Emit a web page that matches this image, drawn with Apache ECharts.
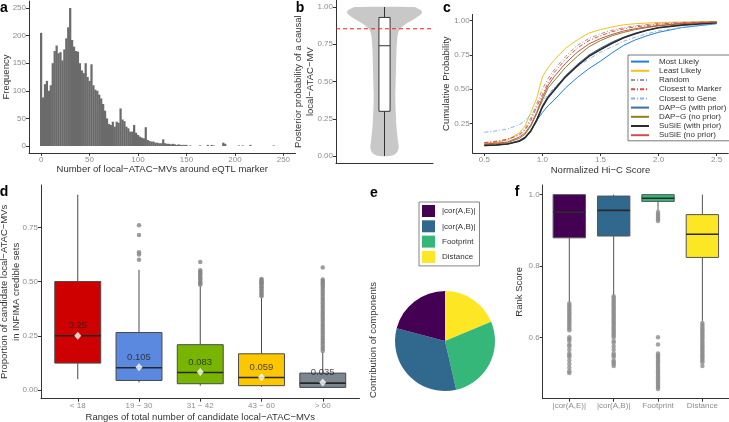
<!DOCTYPE html>
<html><head><meta charset="utf-8">
<script src="https://cdn.jsdelivr.net/npm/echarts@6/dist/echarts.min.js"></script>
<style>html,body{margin:0;padding:0;background:#fff}#c{width:729px;height:422px}</style>
</head><body><div id="c"></div>
<script>
// ================= DATA =================
// (a) histogram: bin centres (width 2) and counts
const histCenters = [0,2,4,6,8,10,12,14,16,18,20,22,24,26,28,30,32,34,36,38,40,42,44,46,48,50,52,54,56,58,60,62,64,66,68,70,72,74,76,78,80,82,84,86,88,90,92,94,96,98,100,102,104,106,108,110,112,114,116,118,120,122,124,126,128,130,132,134,136,138,140,142,144,146,148,150,154,164,172,176,178,188,190,204,208,216,240];
const histCounts  = [205,88,112,118,100,110,150,172,182,168,170,155,175,195,215,250,192,180,172,171,150,137,132,150,125,118,148,110,102,100,93,86,76,64,50,40,38,44,35,44,42,68,48,45,35,32,26,26,38,24,20,17,15,14,34,11,9,8,8,6,6,5,5,12,5,4,4,3,4,3,2,3,2,2,2,2,1,1,2,2,1,6,4,1,1,2,1];
const aTicksX = [0,50,100,150,200,250];
const aTicksY = [0,50,100,150,200,250];

// (b) violin: posterior probability levels and relative density (half width)
const violinLevels  = [1.0,0.99,0.98,0.97,0.96,0.95,0.93,0.91,0.89,0.87,0.85,0.82,0.78,0.7,0.6,0.5,0.4,0.3,0.2,0.15,0.1,0.06,0.03,0.01,0.0];
const violinDensity = [0.80,0.89,0.97,1.0,1.0,0.97,0.86,0.73,0.59,0.49,0.41,0.36,0.34,0.32,0.31,0.30,0.29,0.30,0.32,0.34,0.36,0.38,0.35,0.27,0.14];
const bBox = [0.0, 0.30, 0.74, 0.93, 1.0];
const bThreshold = 0.854;
const bTicks = [0,0.25,0.5,0.75,1.0];

// (c) cumulative distributions
const cNames = ['Most Likely','Least Likely','Random','Closest to Marker','Closest to Gene','DAP\u2212G (with prior)','DAP\u2212G (no prior)','SuSiE (with prior)','SuSiE (no prior)'];
const ecdfX = [0.5,0.6,0.7,0.8,0.85,0.9,0.95,1.0,1.05,1.1,1.2,1.3,1.4,1.5,1.6,1.7,1.8,1.9,2.0,2.2,2.5];
const mostLikely     = [0.087,0.09,0.10,0.12,0.14,0.19,0.27,0.33,0.38,0.42,0.51,0.585,0.65,0.705,0.765,0.82,0.86,0.89,0.915,0.95,0.978];
const leastLikely    = [0.107,0.11,0.13,0.18,0.23,0.33,0.43,0.59,0.66,0.71,0.80,0.86,0.91,0.935,0.955,0.97,0.978,0.983,0.987,0.99,0.995];
const randomSel      = [0.107,0.115,0.13,0.17,0.21,0.29,0.39,0.50,0.58,0.64,0.74,0.82,0.87,0.905,0.93,0.95,0.963,0.972,0.98,0.988,0.993];
const closestMarker  = [0.11,0.12,0.135,0.165,0.20,0.27,0.37,0.46,0.55,0.62,0.72,0.80,0.855,0.89,0.92,0.94,0.955,0.965,0.975,0.985,0.992];
const closestGene    = [0.185,0.195,0.21,0.24,0.27,0.31,0.36,0.41,0.46,0.51,0.59,0.665,0.72,0.77,0.81,0.85,0.88,0.905,0.925,0.95,0.98];
const dapgPrior      = [0.09,0.093,0.10,0.125,0.15,0.20,0.28,0.38,0.45,0.50,0.60,0.68,0.75,0.80,0.845,0.88,0.91,0.93,0.95,0.97,0.985];
const dapgNoPrior    = [0.095,0.10,0.11,0.14,0.17,0.23,0.32,0.42,0.51,0.56,0.66,0.74,0.81,0.855,0.89,0.915,0.935,0.95,0.962,0.978,0.99];
const susiePrior     = [0.09,0.092,0.10,0.12,0.145,0.195,0.27,0.37,0.44,0.49,0.59,0.67,0.74,0.79,0.835,0.875,0.905,0.93,0.948,0.968,0.985];
const susieNoPrior   = [0.10,0.105,0.115,0.15,0.18,0.24,0.33,0.44,0.53,0.59,0.69,0.77,0.83,0.87,0.90,0.925,0.942,0.955,0.966,0.98,0.99];
const cTicksX = [0.5,1.0,1.5,2.0,2.5];
const cTicksY = [0.25,0.5,0.75,1.0];

// (d) proportion boxplots: [lower whisker, Q1, median, Q3, upper whisker]
const dCats = ['< 18','19 \u2212 30','31 \u2212 42','43 \u2212 60','> 60'];
const dStats = [[0.05,0.124,0.25,0.50,0.90],[0.035,0.044,0.103,0.265,0.554],[0.02,0.029,0.081,0.209,0.477],[0.015,0.02,0.058,0.167,0.425],[0.01,0.012,0.032,0.078,0.173]];
const dMeans = [0.25,0.105,0.083,0.059,0.035];
const dLabels = ['0.25','0.105','0.083','0.059','0.035'];
const dOutliers = [
  [],
  [0.76,0.715,0.635,0.625,0.60],
  [0.59,0.552,0.545,0.538,0.53,0.522,0.515,0.508,0.50,0.495,0.49,0.485],
  [0.512,0.507,0.502,0.497,0.492,0.486,0.48,0.474,0.467,0.46,0.452,0.445,0.438,0.432],
  [0.565,0.51,0.503,0.496,0.488,0.48,0.47,0.46,0.45,0.44,0.43,0.42,0.41,0.40,0.39,0.38,0.37,0.36,0.35,0.34,0.33,0.32,0.31,0.30,0.29,0.28,0.27,0.26,0.25,0.24,0.23,0.22,0.21,0.20,0.19,0.18]
];
const dTicksY = [0,0.25,0.5,0.75];

// (e) pie contributions (percent)
const eNames  = ['|cor(A,E)|','|cor(A,B)|','Footprint','Distance'];
const eValues = [20.9,32.7,27.7,18.7];

// (f) rank score boxplots
const fCats = ['|cor(A,E)|','|cor(A,B)|','Footprint','Distance'];
const fStats = [[0.697,0.879,0.951,1.0,1.0],[0.717,0.884,0.956,0.996,1.0],[0.956,0.981,0.99,1.0,1.0],[0.646,0.824,0.889,0.944,1.0]];
const fOutliers = [
  [0.695,0.69,0.685,0.68,0.675,0.67,0.665,0.66,0.655,0.65,0.645,0.64,0.635,0.63,0.625,0.62,0.60,0.595,0.59,0.58,0.575,0.565,0.555,0.55,0.545,0.535,0.525,0.515,0.505,0.50],
  [0.715,0.71,0.705,0.70,0.695,0.69,0.685,0.68,0.675,0.67,0.665,0.66,0.655,0.65,0.645,0.64,0.635,0.63,0.625,0.62,0.615,0.61,0.605,0.60,0.59,0.585,0.575,0.565,0.555,0.55,0.545,0.535,0.53,0.525,0.52],
  [0.951,0.946,0.941,0.936,0.931,0.926,0.60,0.58,0.555,0.55,0.545,0.54,0.535,0.53,0.525,0.52,0.515,0.51,0.505,0.50,0.495,0.49,0.485,0.48,0.475,0.47,0.465,0.46,0.455],
  [0.64,0.635,0.63,0.625,0.62,0.615,0.61,0.605,0.60,0.595,0.59,0.585,0.58,0.575,0.57,0.565,0.56,0.555,0.55,0.545,0.54,0.535,0.53,0.52]
];
const fTicksY = [0.6,0.8,1.0];

// ================= STYLE =================
const FONT = '"Liberation Sans", Arial, Helvetica, sans-serif';
const TICKCOL = '#8c8c8c', AXCOL = '#333', TITLECOL = '#333';
const cColors = ['#1f7fd9','#f2c21b','#9a9a9a','#e8453c','#86b4e6','#3f6f9e','#8f7f24','#2b2b2b','#c4534c'];
const cTypes  = ['solid','solid',[4,2,1,2],[4,2,1,2],[4,2,1,2],'solid','solid','solid','solid'];
const cWidths = [1,1,1,1,1,1,1,1.6,1];
const dColors = ['#cf0000','#5b89df','#78b500','#fdc700','#7b8690'];
const fColors = ['#440154','#31688e','#35b779','#fde725'];

function axisBase(gridIndex, min, max, ticks, fmt, name, nameGap, showLabels) {
  return {
    type:'value', gridIndex, min, max,
    splitLine:{show:false},
    axisLine:{show:true, onZero:false, lineStyle:{color:AXCOL, width:1}},
    axisTick:{show:ticks.length>0, length:3, lineStyle:{color:AXCOL}, customValues:ticks},
    axisLabel:{show:showLabels!==false, color:TICKCOL, fontSize:8, margin:3, fontFamily:FONT, customValues:ticks, formatter:fmt},
    name, nameLocation:'middle', nameGap, nameMoveOverlap:false,
    nameTextStyle:{color:TITLECOL, fontSize:9.5, fontFamily:FONT, lineHeight:12}
  };
}

// box renderer on value axes
function boxSeries(xi, yi, stats, colors, halfW, border, medianCol, medianW) {
  return {
    type:'custom', xAxisIndex:xi, yAxisIndex:yi, silent:true, z:2,
    data: stats.map((s,i)=>[i+1].concat(s)),
    renderItem(params, api){
      const x=api.value(0), lo=api.value(1), q1=api.value(2), md=api.value(3), q3=api.value(4), hi=api.value(5);
      const c = colors[params.dataIndex % colors.length];
      const tl=api.coord([x-halfW,q3]), br=api.coord([x+halfW,q1]);
      const top=api.coord([x,hi]), bot=api.coord([x,lo]);
      const ml=api.coord([x-halfW,md]), mr=api.coord([x+halfW,md]);
      return {type:'group', children:[
        {type:'line', shape:{x1:top[0],y1:top[1],x2:top[0],y2:tl[1]}, style:{stroke:border,lineWidth:1}},
        {type:'line', shape:{x1:bot[0],y1:bot[1],x2:bot[0],y2:br[1]}, style:{stroke:border,lineWidth:1}},
        {type:'rect', shape:{x:tl[0],y:tl[1],width:br[0]-tl[0],height:br[1]-tl[1]}, style:{fill:c,stroke:border,lineWidth:1}},
        {type:'line', shape:{x1:ml[0],y1:ml[1],x2:mr[0],y2:mr[1]}, style:{stroke:medianCol,lineWidth:medianW}}
      ]};
    }
  };
}

function outlierSeries(xi, yi, lists, color) {
  const pts = [];
  lists.forEach((l,i)=>l.forEach(v=>pts.push([i+1, v])));
  return {type:'scatter', xAxisIndex:xi, yAxisIndex:yi, data:pts, symbol:'circle', symbolSize:4.5,
    itemStyle:{color:color}, silent:true, z:3};
}

const chart = echarts.init(document.getElementById('c'), null, {renderer:'canvas'});

const gridCommon = {containLabel:false, outerBoundsMode:'none'};
const grids = [
  Object.assign({left:29, top:1.1, width:266.5, height:151.8}, gridCommon),
  Object.assign({left:336, top:0, width:97, height:163.3}, gridCommon),
  Object.assign({left:472.7, top:14.4, width:255.6, height:138.6}, gridCommon),
  Object.assign({left:41, top:185, width:318.5, height:213.7}, gridCommon),
  Object.assign({left:542.7, top:185, width:186.3, height:213.7}, gridCommon)
];

const xAxes = [
  axisBase(0, -12.5, 262.5, aTicksX, v=>String(v), 'Number of local\u2212ATAC\u2212MVs around eQTL marker', 10),
  axisBase(1, -1, 1, [], null, '', 0, false),
  axisBase(2, 0.4, 2.6, cTicksX, v=>v.toFixed(1), 'Normalized Hi\u2212C Score', 11.5),
  axisBase(3, 0.4, 5.6, [1,2,3,4,5], v=>dCats[Math.round(v)-1], 'Ranges of total number of candidate local\u2212ATAC\u2212MVs', 12.5),
  axisBase(4, 0.4, 4.6, [1,2,3,4], v=>fCats[Math.round(v)-1], '', 0)
];
const yAxes = [
  axisBase(0, -12.5, 262.5, aTicksY, v=>String(v), 'Frequency', 16.5),
  axisBase(1, -0.049, 1.047, bTicks, v=>v.toFixed(2), 'Posterior probability of a causal\nlocal\u2212ATAC\u2212MV', 20),
  axisBase(2, 0.034, 1.046, cTicksY, v=>v.toFixed(2), 'Cumulative Probability', 20),
  axisBase(3, -0.04, 0.945, dTicksY, v=>v.toFixed(2), 'Proportion of candidate local\u2212ATAC\u2212MVs\nin INFIMA credible sets', 19),
  axisBase(4, 0.428, 1.027, fTicksY, v=>v.toFixed(1), 'Rank Score', 17)
];

const series = [];
// (a) histogram
series.push({
  type:'custom', xAxisIndex:0, yAxisIndex:0, silent:true,
  data: histCenters.map((c,i)=>[c, histCounts[i]]),
  renderItem(params, api){
    const c=api.value(0), h=api.value(1);
    const p1=api.coord([c-1,h]), p2=api.coord([c+1,0]);
    return {type:'rect', shape:{x:p1[0]-0.15,y:p1[1],width:p2[0]-p1[0]+0.3,height:p2[1]-p1[1]}, style:{fill:'#6b6b6b'}};
  }
});
// (b) violin
const VIOLIN_HALF = 0.77;
series.push({
  type:'custom', xAxisIndex:1, yAxisIndex:1, silent:true, z:1,
  data:[[0]],
  renderItem(params, api){
    const pts=[];
    violinLevels.forEach((y,i)=>pts.push(api.coord([ violinDensity[i]*VIOLIN_HALF, y])));
    for(let i=violinLevels.length-1;i>=0;i--) pts.push(api.coord([-violinDensity[i]*VIOLIN_HALF, violinLevels[i]]));
    return {type:'polygon', shape:{points:pts, smooth:0.3}, style:{fill:'#c8c8c8'}};
  }
});
series.push({
  type:'custom', xAxisIndex:1, yAxisIndex:1, silent:true, z:2,
  data:[[0].concat(bBox)],
  renderItem(params, api){
    const x=0, hw=0.115;
    const lo=api.value(1), q1=api.value(2), md=api.value(3), q3=api.value(4), hi=api.value(5);
    const tl=api.coord([x-hw,q3]), br=api.coord([x+hw,q1]);
    const top=api.coord([x,hi]), bot=api.coord([x,lo]);
    const ml=api.coord([x-hw,md]), mr=api.coord([x+hw,md]);
    return {type:'group', children:[
      {type:'line', shape:{x1:top[0],y1:top[1],x2:top[0],y2:tl[1]}, style:{stroke:'#333',lineWidth:1}},
      {type:'line', shape:{x1:bot[0],y1:bot[1],x2:bot[0],y2:br[1]}, style:{stroke:'#333',lineWidth:1}},
      {type:'rect', shape:{x:tl[0],y:tl[1],width:br[0]-tl[0],height:br[1]-tl[1]}, style:{fill:'#fff',stroke:'#333',lineWidth:1}},
      {type:'line', shape:{x1:ml[0],y1:ml[1],x2:mr[0],y2:mr[1]}, style:{stroke:'#333',lineWidth:1}}
    ]};
  }
});
series.push({
  type:'line', xAxisIndex:1, yAxisIndex:1, silent:true, z:3, symbol:'none',
  data:[[-1,bThreshold],[1,bThreshold]],
  lineStyle:{color:'#ff1a1a', width:1.1, type:[4,3]}
});
// (c) ECDF lines
const cSeriesData = [mostLikely, leastLikely, randomSel, closestMarker, closestGene, dapgPrior, dapgNoPrior, susiePrior, susieNoPrior];
cSeriesData.forEach((ys, k)=>{
  series.push({
    name:cNames[k], type:'line', xAxisIndex:2, yAxisIndex:2, symbol:'none', silent:true,
    data: ecdfX.map((x,i)=>[x, ys[i]]),
    lineStyle:{color:cColors[k], width:cWidths[k], type:cTypes[k]},
    itemStyle:{color:cColors[k]}, z: 2+k
  });
});
// (d) boxplots
series.push(boxSeries(3,3,dStats,dColors,0.375,'#4a4a4a','#262626',1.6));
series.push(outlierSeries(3,3,dOutliers,'#858585'));
series.push({
  type:'scatter', xAxisIndex:3, yAxisIndex:3, silent:true, z:5,
  data: dMeans.map((m,i)=>[i+1, m]),
  symbol:'diamond', symbolSize:[7,8], itemStyle:{color:'#ffffff'},
  label:{show:true, position:'top', distance:1, color:'#222', fontSize:9.5, fontFamily:FONT,
    formatter:p=>dLabels[p.dataIndex]}
});
// (e) pie
const pieOrder = [3,2,1,0];
series.push({
  type:'pie', center:[445,341], radius:50, startAngle:90, clockwise:true, silent:true,
  label:{show:false}, labelLine:{show:false},
  data: pieOrder.map(i=>({name:eNames[i], value:eValues[i], itemStyle:{color:fColors[i]}}))
});
// (f) boxplots
series.push(boxSeries(4,4,fStats,fColors,0.365,'#555','#2a2a2a',1.6));
series.push(outlierSeries(4,4,fOutliers,'#8c8c8c'));

const letters = [['a',4,8],['b',300,8],['c',447,8],['d',4,192],['e',374,193],['f',517,192]];
const graphic = letters.map(l=>({type:'text', x:l[1], y:l[2], style:{text:l[0], font:'bold 14px '+FONT, fill:'#000', align:'center', verticalAlign:'middle'}}));
graphic.push({type:'text', x:373, y:340, rotation:Math.PI/2,
  style:{text:'Contribution of components', font:'9.5px '+FONT, fill:TITLECOL, align:'center', verticalAlign:'middle'}});

chart.setOption({
  animation:false,
  backgroundColor:'#fff',
  textStyle:{fontFamily:FONT},
  grid:grids,
  xAxis:xAxes,
  yAxis:yAxes,
  legend:[
    {data:cNames, orient:'vertical', left:628, top:55, itemWidth:18, itemHeight:9.2, itemGap:0,
     padding:[2,4,1,2], borderColor:'#555', borderWidth:0.8, selectedMode:false,
     itemStyle:{opacity:0, borderWidth:0},
     textStyle:{fontSize:8, color:'#333', fontFamily:FONT, padding:[0,0,0,5], lineHeight:9.2}},
    {data:eNames, orient:'vertical', left:419, top:202, itemWidth:13, itemHeight:12, itemGap:3.3, icon:'rect',
     padding:[3,4,3,3], borderColor:'#666', borderWidth:0.8, selectedMode:false,
     textStyle:{fontSize:8, color:'#333', fontFamily:FONT, padding:[0,0,0,2]}}
  ],
  series,
  graphic
});
</script>
</body></html>
